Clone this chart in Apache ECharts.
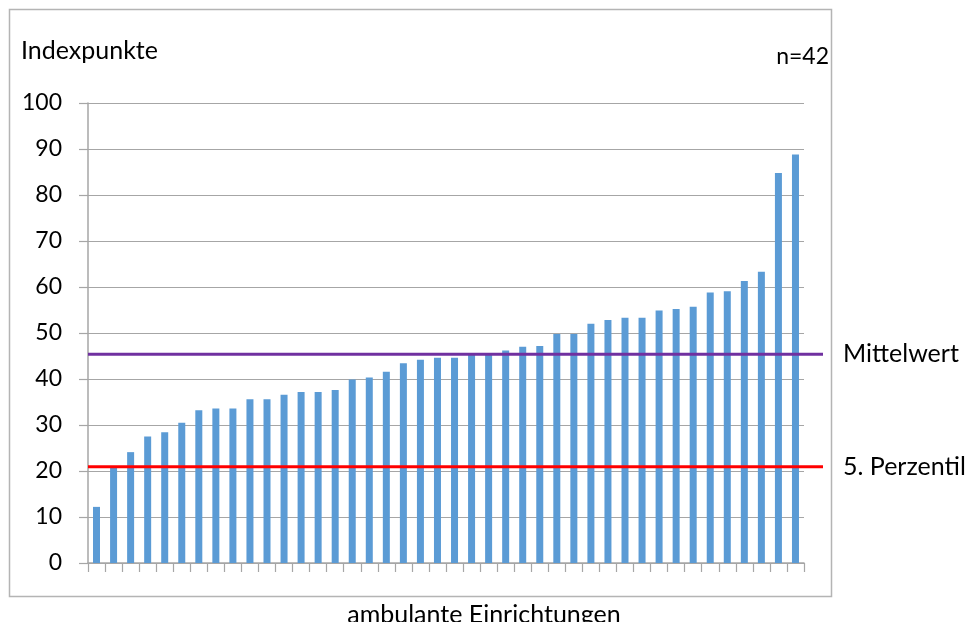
<!DOCTYPE html>
<html>
<head>
<meta charset="utf-8">
<script src="https://cdn.jsdelivr.net/npm/echarts@6/dist/echarts.min.js"></script>
<style>
  html, body { margin: 0; padding: 0; background: #fff; }
  #main { width: 965px; height: 622px; }
</style>
</head>
<body>
<div id="main"></div>
<script>
// Indexpunkte je ambulante Einrichtung (sortiert)
var einrichtungen = [];
for (var i = 1; i <= 42; i++) einrichtungen.push('E' + i);

var indexpunkte = [
  12.2, 20.8, 24.1, 27.5, 28.4, 30.5, 33.2, 33.6, 33.6, 35.6,
  35.6, 36.6, 37.2, 37.2, 37.6, 39.9, 40.3, 41.6, 43.4, 44.2,
  44.6, 44.6, 45.3, 45.5, 46.2, 47.0, 47.2, 49.8, 49.8, 52.0,
  52.8, 53.3, 53.3, 54.9, 55.2, 55.7, 58.8, 59.1, 61.3, 63.3,
  84.8, 88.8
];

var mittelwert = 45.4;
var perzentil5 = 20.9;
var yTicks = [0, 10, 20, 30, 40, 50, 60, 70, 80, 90, 100];

var FONT = 'Lato';
var myChart = echarts.init(document.getElementById('main'));

var option = {
  backgroundColor: '#fff',
  animation: false,
  textStyle: { fontFamily: FONT, color: '#000' },
  graphic: [
    {
      type: 'rect',
      shape: { x: 9.5, y: 9.5, width: 822, height: 587 },
      style: { fill: 'none', stroke: '#b4b4b4', lineWidth: 1.5 },
      silent: true
    },
    {
      type: 'text', left: 21, top: 38,
      style: { text: 'Indexpunkte', font: '25px ' + FONT, fill: '#000' }
    },
    {
      type: 'text', right: 965 - 829, top: 45,
      style: { text: 'n=42', font: '23px ' + FONT, fill: '#000' }
    }
  ],
  grid: [
    { left: 88, right: 161, top: 103, bottom: 59, outerBoundsMode: 'none', containLabel: false },
    { left: 88, right: 142, top: 103, bottom: 59, outerBoundsMode: 'none', containLabel: false }
  ],
  xAxis: [
    {
      type: 'category',
      gridIndex: 0,
      data: einrichtungen,
      boundaryGap: true,
      name: 'ambulante Einrichtungen',
      nameLocation: 'middle',
      nameGap: 39,
      nameTextStyle: { fontSize: 25, fontFamily: FONT, color: '#000', padding: [0, 0, 0, 76] },
      axisLine: { show: true, lineStyle: { color: '#a6a6a6', width: 1.5 } },
      axisTick: { show: true, interval: 0, length: 9, lineStyle: { color: '#a6a6a6', width: 1.2 } },
      axisLabel: { show: false }
    },
    {
      type: 'value', gridIndex: 1, min: 0, max: 1, show: false
    }
  ],
  yAxis: [
    {
      type: 'value',
      gridIndex: 0,
      min: yTicks[0],
      max: yTicks[yTicks.length - 1],
      interval: 10,
      axisLine: { show: true, lineStyle: { color: '#a6a6a6', width: 1.5 } },
      axisTick: { show: true, length: 9, lineStyle: { color: '#a6a6a6', width: 1.2 } },
      axisLabel: { fontSize: 23, fontFamily: FONT, color: '#000', margin: 26 },
      splitLine: { lineStyle: { color: '#a6a6a6', width: 1.2 } }
    },
    {
      type: 'value', gridIndex: 1, min: 0, max: 100, show: false
    }
  ],
  series: [
    {
      type: 'bar',
      xAxisIndex: 0, yAxisIndex: 0,
      data: indexpunkte,
      barWidth: 7,
      itemStyle: { color: '#5b9bd5' },
      z: 2
    },
    {
      type: 'line',
      xAxisIndex: 1, yAxisIndex: 1,
      data: [[0, mittelwert], [1, mittelwert]],
      symbol: 'none',
      lineStyle: { color: '#7030a0', width: 3 },
      endLabel: {
        show: true, formatter: 'Mittelwert', distance: 20,
        fontSize: 25, fontFamily: FONT, color: '#000'
      },
      z: 3
    },
    {
      type: 'line',
      xAxisIndex: 1, yAxisIndex: 1,
      data: [[0, perzentil5], [1, perzentil5]],
      symbol: 'none',
      lineStyle: { color: '#ff0000', width: 3 },
      endLabel: {
        show: true, formatter: '5. Perzentil', distance: 20,
        fontSize: 25, fontFamily: FONT, color: '#000'
      },
      z: 3
    }
  ]
};
myChart.setOption(option);
</script>
</body>
</html>
